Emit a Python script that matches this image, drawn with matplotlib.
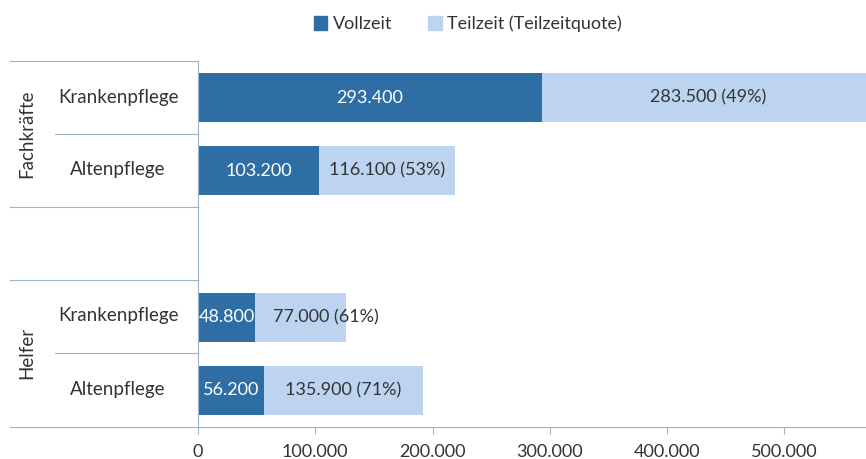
import matplotlib.pyplot as plt
from matplotlib.patches import Patch
from matplotlib.ticker import FuncFormatter

plt.rcParams['font.family'] = ['Lato', 'DejaVu Sans']

# ---- data ----
groups      = ["Fachkräfte", "Helfer"]
berufe      = ["Krankenpflege", "Altenpflege", "Krankenpflege", "Altenpflege"]
vollzeit    = [293400, 103200, 48800, 56200]
teilzeit    = [283500, 116100, 77000, 135900]
quote       = [49, 53, 61, 71]
x_ticks     = [0, 100000, 200000, 300000, 400000, 500000]

DARK  = "#2F6EA5"
LIGHT = "#BCD4F0"
LINE  = "#9FB3C6"
TXT   = "#333333"
FS    = 13

def de(v):
    # deutsche tausender-trennung
    return f"{v:,.0f}".replace(",", ".")

# bar slots: 2 bars, gap, 2 bars
ypos = [0, 1, 3, 4]

fig = plt.figure(figsize=(8.66, 4.59), dpi=100)
ax = fig.add_axes([198 / 866, 32 / 459, 668 / 866, 366 / 459])

ax.barh(ypos, vollzeit, height=0.67, color=DARK, zorder=2)
ax.barh(ypos, teilzeit, left=vollzeit, height=0.67, color=LIGHT, zorder=2)

for i, y in enumerate(ypos):
    ax.text(vollzeit[i] / 2, y, de(vollzeit[i]), color="white",
            ha="center", va="center", fontsize=FS, zorder=3)
    label = f"{de(teilzeit[i])} ({quote[i]}%)"
    cx = vollzeit[i] + teilzeit[i] / 2
    if i == 2:
        # passt nicht rein -> etwas nach rechts schieben
        ax.annotate(label, (vollzeit[i], y), xytext=(18, 0),
                    textcoords="offset pixels", color=TXT,
                    ha="left", va="center", fontsize=FS, zorder=3)
    else:
        ax.text(cx, y, label, color=TXT, ha="center", va="center",
                fontsize=FS, zorder=3)

ax.set_xlim(0, 569700)
ax.set_ylim(4.5, -0.5)
ax.set_xticks(x_ticks)
ax.xaxis.set_major_formatter(FuncFormatter(lambda v, p: de(v)))
ax.tick_params(axis="x", length=5, color=LINE, labelsize=FS,
               labelcolor=TXT, pad=7)
ax.set_yticks([])
for s in ["top", "right"]:
    ax.spines[s].set_visible(False)
ax.spines["left"].set_color(LINE)
ax.spines["bottom"].set_color(LINE)
ax.spines["left"].set_linewidth(0.8)
ax.spines["bottom"].set_linewidth(0.8)

# ---- category area on the left (figure coords) ----
def fy(py):
    return 1 - py / 459

def fx(px):
    return px / 866

for py, x0 in [(61, 10), (134, 55), (207, 10), (280, 10), (353, 55), (427, 10)]:
    fig.add_artist(plt.Line2D([fx(x0), fx(198)], [fy(py), fy(py)],
                              color=LINE, lw=0.8))

for name, py in zip(berufe, [97, 170, 316, 389]):
    fig.text(fx(118), fy(py), name, ha="center", va="center",
             fontsize=13.5, color=TXT)
for g, py in zip(groups, [134, 353]):
    fig.text(fx(27), fy(py), g, rotation=90, ha="center", va="center",
             fontsize=13.5, color=TXT)

# ---- legend ----
handles = [Patch(color=DARK, label="Vollzeit"),
           Patch(color=LIGHT, label="Teilzeit (Teilzeitquote)")]
fig.legend(handles=handles, loc="center", bbox_to_anchor=(fx(468), fy(24)),
           ncol=2, frameon=False, fontsize=FS, handlelength=0.75,
           handleheight=0.75, handletextpad=0.3, columnspacing=2.0,
           labelcolor=TXT)

fig.savefig("out.png", dpi=100)
